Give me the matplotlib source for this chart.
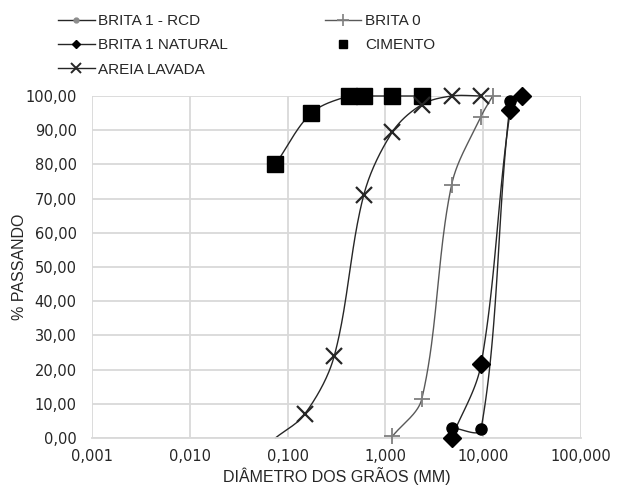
import numpy as np
import matplotlib
matplotlib.use("Agg")
import matplotlib.pyplot as plt
from matplotlib.lines import Line2D
from matplotlib.ticker import FuncFormatter, FixedLocator

# ---- data ----
rcd_x = [4.75, 9.5, 19.0, 25.0]
rcd_y = [3.0, 2.6, 98.5, 100.0]
brita0_x = [1.18, 2.36, 4.75, 9.5, 12.5]
brita0_y = [0.5, 11.5, 74.0, 94.0, 100.0]
nat_x = [4.75, 9.5, 19.0, 25.0]
nat_y = [0.0, 21.5, 96.0, 100.0]
cim_x = [0.075, 0.175, 0.42, 0.6, 1.18, 2.36]
cim_y = [80.0, 95.0, 100.0, 100.0, 100.0, 100.0]
areia_x = [0.075, 0.15, 0.3, 0.6, 1.18, 2.36, 4.75, 9.5]
areia_y = [0.0, 7.0, 24.0, 71.0, 89.5, 97.5, 100.0, 100.0]

x_ticks = [0.001, 0.01, 0.1, 1, 10, 100]
y_ticks = list(range(0, 101, 10))

DEC_PX = 98.0
Y_PX = 3.42
SANS = "Liberation Sans"


def smooth(xs, ys, n=40):
    """Chord-length weighted Bezier smoothing in log-x / y display space."""
    u = np.log10(np.asarray(xs, float)) * DEC_PX
    v = np.asarray(ys, float) * Y_PX
    P = np.column_stack([u, v])
    m = len(P)
    out = []
    for i in range(m - 1):
        p1, p2 = P[i], P[i + 1]
        d12 = np.linalg.norm(p2 - p1)
        if i > 0:
            p0 = P[i - 1]
            d01 = np.linalg.norm(p1 - p0)
            c1 = p1 + (p2 - p0) * d12 / (d01 + d12) / 3.0
        else:
            c1 = p1 + (p2 - p1) / 3.0
        if i + 2 < m:
            p3 = P[i + 2]
            d23 = np.linalg.norm(p3 - p2)
            c2 = p2 - (p3 - p1) * d12 / (d12 + d23) / 3.0
        else:
            c2 = p2 - (p2 - p1) / 3.0
        t = np.linspace(0, 1, n)[:, None]
        seg = ((1 - t) ** 3) * p1 + 3 * ((1 - t) ** 2) * t * c1 + 3 * (1 - t) * t ** 2 * c2 + t ** 3 * p2
        out.append(seg if i == 0 else seg[1:])
    S = np.vstack(out)
    return 10 ** (S[:, 0] / DEC_PX), S[:, 1] / Y_PX


fig = plt.figure(figsize=(6.17, 4.91), dpi=100)
ax = fig.add_axes([92 / 617, 1 - 438 / 491, (581 - 92) / 617, (438 - 96) / 491])
ax.set_xscale("log")
ax.set_xlim(0.001, 100)
ax.set_ylim(0, 100)

grid_c = "#d9d9d9"
ax.xaxis.set_major_locator(FixedLocator(x_ticks))
ax.xaxis.set_minor_locator(FixedLocator([]))
ax.yaxis.set_major_locator(FixedLocator(y_ticks))
ax.grid(True, color=grid_c, linewidth=1.3, zorder=0)
for s in ax.spines.values():
    s.set_visible(False)
ax.spines["bottom"].set_visible(True)
ax.spines["bottom"].set_color(grid_c)
ax.spines["bottom"].set_linewidth(1.3)
ax.tick_params(length=0, labelsize=10.5, colors="#262626")
ax.tick_params(axis="y", pad=11)
ax.tick_params(axis="x", pad=8)
ax.xaxis.set_major_formatter(FuncFormatter(lambda v, p: f"{v:.3f}".replace(".", ",")))
ax.yaxis.set_major_formatter(FuncFormatter(lambda v, p: f"{v:.2f}".replace(".", ",")))
for lab in ax.get_xticklabels() + ax.get_yticklabels():
    lab.set_family("DejaVu Sans")

lc = "#262626"
for xs, ys, col in [(cim_x, cim_y, lc), (areia_x, areia_y, lc), (brita0_x, brita0_y, "#595959"),
                    (nat_x, nat_y, lc), (rcd_x, rcd_y, lc)]:
    sx, sy = smooth(xs, ys)
    ax.plot(sx, sy, color=col, linewidth=1.0, zorder=2, clip_on=False)

ax.plot(cim_x, cim_y, linestyle="none", marker="s", markersize=11.5, color="black", zorder=3, clip_on=False)
ax.plot(areia_x[1:], areia_y[1:], linestyle="none", marker="x", markersize=11, markeredgewidth=1.6,
        color=lc, zorder=3, clip_on=False)
ax.plot(brita0_x, brita0_y, linestyle="none", marker="+", markersize=12, markeredgewidth=1.3,
        color="#7f7f7f", zorder=3, clip_on=False)
ax.plot(rcd_x, rcd_y, linestyle="none", marker="o", markersize=8, color="black", zorder=3, clip_on=False)
ax.plot(nat_x, nat_y, linestyle="none", marker="D", markersize=9.5, color="black", zorder=4, clip_on=False)

ax.set_xlabel("DIÂMETRO DOS GRÃOS (MM)", fontsize=11.5, family=SANS, color="#262626", va="center")
ax.xaxis.set_label_coords(0.5, (438 - 476) / 342)
ax.set_ylabel("% PASSANDO", fontsize=11.5, family=SANS, color="#262626", va="center")
ax.yaxis.set_label_coords((20 - 92) / 489, 0.5)

handles = [
    Line2D([], [], color=lc, lw=1, marker="o", markersize=3.5, markerfacecolor="#8c8c8c", markeredgecolor="#8c8c8c"),
    Line2D([], [], color=lc, lw=1, marker="D", markersize=4, markerfacecolor="black", markeredgecolor="black"),
    Line2D([], [], color=lc, lw=1, marker="x", markersize=7, markeredgewidth=1.4),
    Line2D([], [], color="#595959", lw=1, marker="+", markersize=8, markeredgecolor="#7f7f7f", markeredgewidth=1.2),
    Line2D([], [], linestyle="none", marker="s", markersize=6, color="black"),
]
labels = ["BRITA 1 - RCD", "BRITA 1 NATURAL", "AREIA LAVADA", "BRITA 0", "CIMENTO"]
leg = fig.legend(handles, labels, ncol=2, loc="upper left", bbox_to_anchor=(58 / 617, 1 - 14 / 491),
                 frameon=False, prop={"family": SANS, "size": 11}, handlelength=2.4,
                 handletextpad=0.25, columnspacing=6.3, labelspacing=0.68, borderaxespad=0, borderpad=0)
for t in leg.get_texts():
    t.set_color("#262626")

fig.savefig("out.png", dpi=100)
